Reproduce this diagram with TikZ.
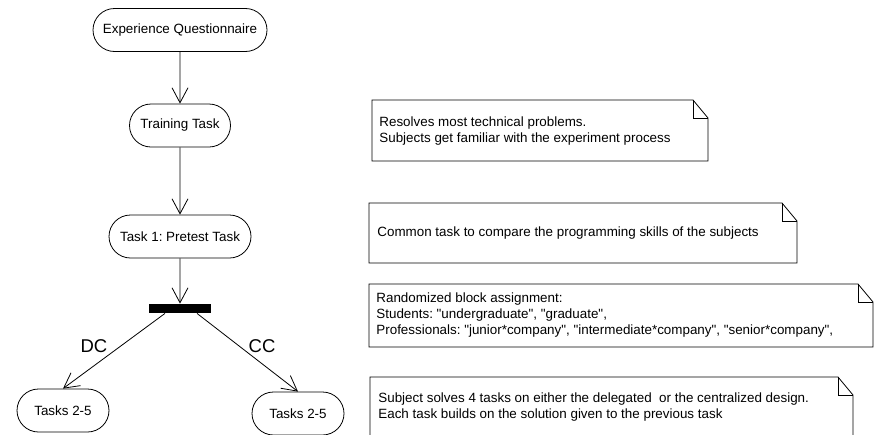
\documentclass[tikz,border=0pt]{standalone}
\usepackage{fontspec}
\setmainfont{Liberation Sans}
\usetikzlibrary{arrows.meta,shapes.misc}

% UML note: rectangle with a folded top-right corner (x1,y1,x2,y2)
\newcommand\umlnote[4]{%
  \draw[notefold] (#1,#2) -- (#3-15,#2) -- (#3,#2+18) -- (#3,#4) -- (#1,#4) -- cycle;
  \draw[notefold] (#3-15,#2) -- (#3-15,#2+18) -- (#3,#2+18);
}
% straight double quote
\newcommand\dq{\textquotedbl}

\begin{document}
\frenchspacing
\begin{tikzpicture}[x=1pt,y=-1pt,
  line width=0.8pt,
  act/.style={draw, rounded rectangle, minimum height=43pt, inner sep=0pt,
    font=\fontsize{13.4}{16}\selectfont},
  arr/.style={-{Straight Barb[length=15pt,width=16pt]}},
  notetext/.style={anchor=west, inner sep=0pt, align=left,
    font=\fontsize{13.4}{16}\selectfont},
  guard/.style={font=\fontsize{18.5}{22}\selectfont},
  notefold/.style={draw, line width=0.8pt},
  forkbar/.style={fill=black, draw=none, minimum width=62pt, minimum height=9pt, inner sep=0pt}
]
\useasboundingbox (0,0) rectangle (877,434);

% activity nodes
\node[act, minimum width=174pt] (eq) at (180,30) {Experience Questionnaire};
\node[act, minimum width=101pt] (tt) at (180,125.5) {Training Task};
\node[act, minimum width=142pt] (t1) at (180,236.5) {Task 1: Pretest Task};
\node[forkbar] (bar) at (180,308.5) {};
\node[act, minimum width=92pt] (dc) at (63,410.5) {Tasks 2-5};
\node[act, minimum width=92pt] (cc) at (298,413.5) {Tasks 2-5};

% control flow
\draw[arr] (eq) -- (tt);
\draw[arr] (tt) -- (t1);
\draw[arr] (t1) -- (bar);
\draw[arr] ([xshift=-15pt]bar.south) -- (dc.north);
\draw[arr] ([xshift=17pt]bar.south) -- (cc.north);

% guards
\node[guard] (dclab) at (94,346.5) {DC};
\node[guard] (cclab) at (262,346.5) {CC};

% notes
\umlnote{372}{100}{708}{161}
\node[notetext] (n1t) at (379,131) {Resolves most technical problems.\\Subjects get familiar with the experiment process};

\umlnote{369}{203}{797}{263}
\node[notetext] (n2t) at (377,233) {Common task to compare the programming skills of the subjects};

\umlnote{369}{284}{873}{347}
\node[notetext] (n3t) at (376,315.5) {Randomized block assignment:\\Students: \dq undergraduate\dq, \dq graduate\dq,\\Professionals: \dq junior*company\dq, \dq intermediate*company\dq, \dq senior*company\dq,};

\umlnote{370}{377}{853}{445}
\node[notetext] (n4t) at (378,407.5) {Subject solves 4 tasks on either the delegated\ \ or the centralized design.\\Each task builds on the solution given to the previous task};
\end{tikzpicture}
\end{document}
